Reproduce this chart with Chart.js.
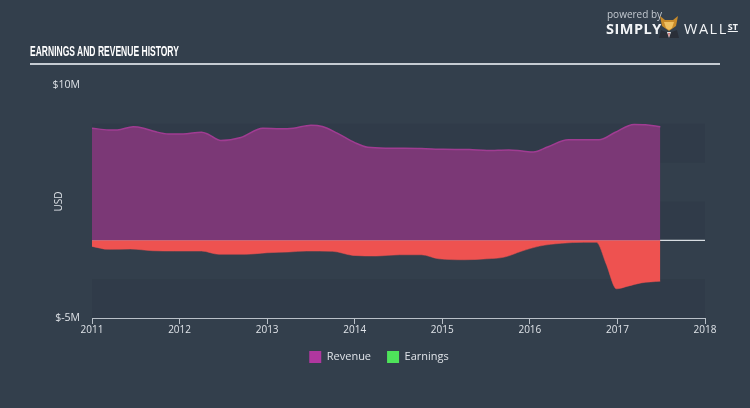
<!DOCTYPE html>
<html>
<head>
<meta charset="utf-8">
<script src="https://cdn.jsdelivr.net/npm/chart.js@4/dist/chart.umd.min.js"></script>
<style>
  html,body{margin:0;padding:0;background:#333f4c;}
  #wrap{position:relative;width:750px;height:408px;background:#333f4c;overflow:hidden;font-family:"Open Sans",Lato,sans-serif;}
  #title{position:absolute;left:30px;top:42px;color:#fff;font-family:"Liberation Sans","DejaVu Sans",sans-serif;font-weight:bold;font-size:15.5px;white-space:nowrap;transform:scaleX(0.55);transform-origin:0 0;}
  #rule{position:absolute;left:30px;top:63px;width:690px;height:2px;background:#c5cbd2;}
  #c{position:absolute;left:0;top:0;}
  #logo{position:absolute;left:606px;top:7px;color:#d5dae0;}
  #logo .pb{font-size:10px;position:absolute;left:1px;top:0;color:#c3c9d0;white-space:nowrap;}
  #logo .s{position:absolute;left:0;top:12px;font-weight:bold;font-size:14.5px;color:#f2f4f6;letter-spacing:0.5px;}
  #logo .w{position:absolute;left:78px;top:12px;font-size:14.5px;color:#f2f4f6;letter-spacing:1.5px;white-space:nowrap;}
  #logo .w sup{font-size:9px;font-weight:bold;text-decoration:underline;letter-spacing:0;vertical-align:4px;}
  #logo .m{position:absolute;left:52px;top:5px;width:22px;height:26px;}
</style>
</head>
<body>
<div id="wrap">
  <canvas id="c" width="750" height="408"></canvas>
  <div id="title">EARNINGS AND REVENUE HISTORY</div>
  <div id="rule"></div>
  <div id="logo">
    <div class="pb">powered by</div>
    <div class="s">SIMPLY</div>
    <svg class="m" viewBox="0 0 22 26">
      <polygon points="2,4 7,8 15,8 20,4 18,14 11,19 4,14" fill="#c98b2a"/>
      <polygon points="6,10 16,10 14,16 11,18 8,16" fill="#f0c060"/>
      <polygon points="3,18 11,21 19,18 21,26 1,26" fill="#2a2f38"/>
      <polygon points="9,20 13,20 11,26" fill="#e8e8e8"/>
      <polygon points="10.3,21 11.7,21 11,25" fill="#c03030"/>
    </svg>
    <div class="w">WALL<sup>ST</sup></div>
  </div>
</div>
<script>
// ---- data (values in $ millions, x in fractional years) ----
const revenueYears = [2011.00,2011.19,2011.29,2011.47,2011.59,2011.72,2011.87,2012.04,2012.25,2012.32,2012.47,2012.70,2012.95,2013.15,2013.30,2013.50,2013.63,2013.80,2014.00,2014.15,2014.40,2014.76,2015.01,2015.31,2015.51,2015.76,2015.91,2016.04,2016.21,2016.44,2016.61,2016.79,2016.97,2017.19,2017.32,2017.49];
const revenueValues = [7.22,7.11,7.11,7.31,7.22,7.00,6.85,6.85,6.96,6.85,6.42,6.62,7.22,7.18,7.22,7.41,7.33,6.90,6.29,5.99,5.93,5.91,5.86,5.84,5.78,5.82,5.75,5.69,6.03,6.47,6.47,6.47,6.94,7.46,7.44,7.31];
const earningsYears = [2011.00,2011.19,2011.44,2011.69,2011.94,2012.25,2012.45,2012.75,2013.00,2013.25,2013.45,2013.75,2013.98,2014.25,2014.51,2014.76,2014.96,2015.26,2015.51,2015.71,2015.91,2016.11,2016.36,2016.61,2016.76,2016.87,2016.99,2017.12,2017.27,2017.49];
const earningsValues = [-0.39,-0.58,-0.56,-0.67,-0.69,-0.69,-0.90,-0.90,-0.80,-0.75,-0.69,-0.71,-0.97,-1.01,-0.93,-0.93,-1.19,-1.25,-1.19,-1.08,-0.69,-0.37,-0.19,-0.13,-0.13,-1.50,-3.12,-2.95,-2.74,-2.63];
const yearTicks = [2011,2012,2013,2014,2015,2016,2017,2018];
const yLabels = {"10":"$10M","-5":"$-5M"};
const seriesNames = ["Revenue","Earnings"];

const toPts = (xs, ys) => xs.map((x,i)=>({x:x,y:ys[i]}));

const bandPlugin = {
  id:'bands',
  beforeDatasetsDraw(chart){
    const {ctx, chartArea:a, scales:{y}} = chart;
    ctx.save();
    ctx.fillStyle = 'rgba(30,40,52,0.13)';
    [[7.5,5],[2.5,0],[-2.5,-5]].forEach(([t,b])=>{
      const yt = y.getPixelForValue(t), yb = y.getPixelForValue(b);
      ctx.fillRect(a.left, yt, a.right-a.left, yb-yt);
    });
    const y0 = y.getPixelForValue(0);
    ctx.strokeStyle = '#d8dde2';
    ctx.lineWidth = 1.2;
    ctx.beginPath(); ctx.moveTo(a.left, y0); ctx.lineTo(a.right, y0); ctx.stroke();
    ctx.restore();
  }
};

const legendColors = ['#b0379f','#4ee35a'];

new Chart(document.getElementById('c'), {
  type:'line',
  data:{
    datasets:[
      {label:seriesNames[0], data:toPts(revenueYears,revenueValues), fill:'origin',
       backgroundColor:'#7b3876', borderColor:'#a03c92', borderWidth:1.5,
       pointRadius:0, tension:0.4, cubicInterpolationMode:'monotone'},
      {label:seriesNames[1], data:toPts(earningsYears,earningsValues), fill:'origin',
       backgroundColor:'#ee5250', borderColor:'#ee5250', borderWidth:0.5,
       pointRadius:0, tension:0.4, cubicInterpolationMode:'monotone'}
    ]
  },
  options:{
    responsive:false, animation:false,
    layout:{padding:{left:53,right:45,top:85,bottom:35}},
    plugins:{
      tooltip:{enabled:false},
      legend:{
        position:'bottom',
        labels:{
          color:'#dfe3e8', boxWidth:12, boxHeight:12, padding:16,
          font:{family:'"Open Sans", Lato, sans-serif', size:11},
          generateLabels(chart){
            return chart.data.datasets.map((d,i)=>({
              text:d.label, fillStyle:legendColors[i], strokeStyle:legendColors[i],
              lineWidth:0, hidden:false, datasetIndex:i, fontColor:'#dfe3e8'
            }));
          }
        }
      }
    },
    scales:{
      x:{
        type:'linear', min:2011, max:2018,
        afterBuildTicks(s){ s.ticks = yearTicks.map(v=>({value:v})); },
        afterFit(s){ s.height = 17; },
        grid:{drawOnChartArea:false, drawTicks:true, tickLength:6, color:'#b9c0c8', lineWidth:1},
        border:{display:true, color:'#b9c0c8', width:1},
        ticks:{color:'#dfe3e8', padding:0, maxRotation:0, autoSkip:false,
               font:{family:'"Open Sans", Lato, sans-serif', size:10},
               callback:(v)=>String(v)}
      },
      y:{
        min:-5, max:10,
        afterBuildTicks(s){ s.ticks = [-5,10].map(v=>({value:v})); },
        afterFit(s){ s.width = 39; },
        grid:{display:false},
        border:{display:false},
        ticks:{color:'#dfe3e8', padding:4, font:{family:'"Open Sans", Lato, sans-serif', size:10.5},
               callback:(v)=>yLabels[String(v)] || ''},
        title:{display:true, text:'USD', color:'#dfe3e8', padding:{top:0,bottom:0},
               font:{family:'"Open Sans", Lato, sans-serif', size:10}}
      }
    }
  },
  plugins:[bandPlugin]
});
</script>
</body>
</html>
